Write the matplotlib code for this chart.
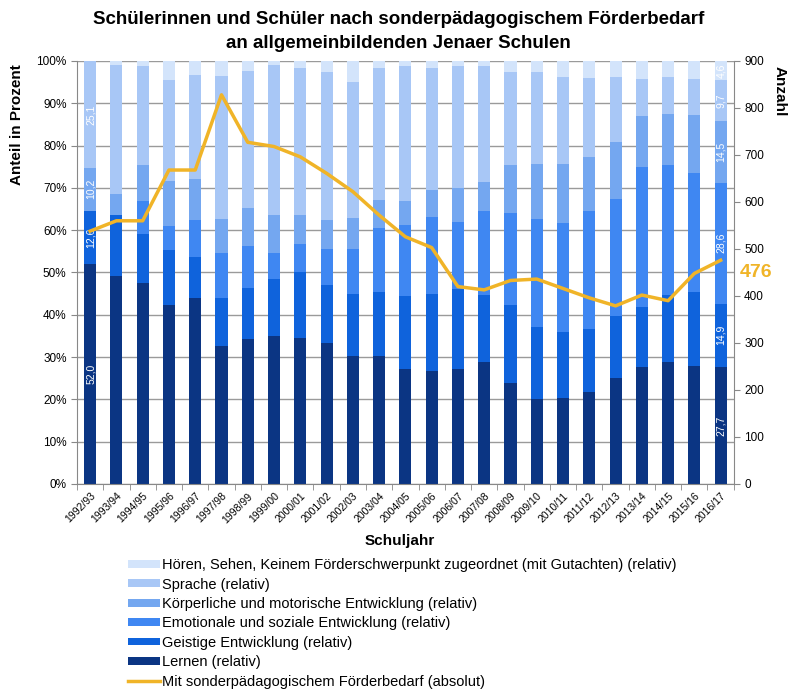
#!/usr/bin/env python3

import matplotlib
matplotlib.use("Agg")
import matplotlib.pyplot as plt
import numpy as np

# School years (categories).
years = ['1992/93', '1993/94', '1994/95', '1995/96', '1996/97', '1997/98',
         '1998/99', '1999/00', '2000/01', '2001/02', '2002/03', '2003/04',
         '2004/05', '2005/06', '2006/07', '2007/08', '2008/09', '2009/10',
         '2010/11', '2011/12', '2012/13', '2013/14', '2014/15', '2015/16',
         '2016/17']

# Relative shares in percent, bottom to top.
lernen = [52.0, 49.2, 47.4, 42.2, 44.0, 32.6, 34.3, 35.0, 34.4, 33.3, 30.3, 30.3,
          27.2, 26.8, 27.3, 28.8, 23.8, 20.0, 20.3, 21.7, 25.1, 27.7, 28.8, 27.9, 27.7]
geistig = [12.6, 14.4, 11.7, 13.0, 9.6, 11.3, 12.0, 13.5, 15.6, 13.7, 14.7, 15.1,
           17.3, 18.1, 18.7, 15.9, 18.4, 17.0, 15.7, 14.9, 14.6, 14.1, 15.9, 17.5, 14.9]
emotional = [0.0, 0.0, 7.8, 5.7, 8.9, 10.6, 10.0, 6.1, 6.7, 8.6, 10.5, 15.2,
             16.7, 18.2, 15.9, 19.8, 21.9, 25.6, 25.6, 27.9, 27.7, 33.1, 30.7, 28.1, 28.6]
koerper = [10.2, 4.9, 8.5, 10.7, 9.6, 8.1, 8.9, 9.0, 6.9, 6.9, 7.4, 6.6,
           5.7, 6.4, 8.1, 6.9, 11.2, 13.0, 14.1, 12.7, 13.4, 12.0, 12.0, 13.7, 14.5]
sprache = [25.1, 30.5, 23.3, 23.9, 24.6, 33.9, 32.4, 35.5, 34.8, 34.8, 32.1, 31.2,
           31.8, 28.9, 28.7, 27.3, 22.0, 21.7, 20.6, 18.7, 15.5, 8.8, 8.9, 8.5, 9.7]
hoeren = [0.1, 1.0, 1.3, 4.5, 3.3, 3.5, 2.4, 0.9, 1.6, 2.7, 5.0, 1.6,
          1.3, 1.6, 1.3, 1.3, 2.7, 2.7, 3.7, 4.1, 3.7, 4.3, 3.7, 4.3, 4.6]

# Absolute number of pupils with special educational needs.
anzahl = [538, 560, 560, 668, 668, 828, 727, 718, 696, 661, 622, 572,
          526, 503, 420, 413, 433, 436, 416, 396, 379, 402, 390, 448, 476]

series = [
    ('Lernen (relativ)', lernen, '#0b3583'),
    ('Geistige Entwicklung (relativ)', geistig, '#0f63dc'),
    ('Emotionale und soziale Entwicklung (relativ)', emotional, '#3f87f2'),
    ('Körperliche und motorische Entwicklung (relativ)', koerper, '#74a7f0'),
    ('Sprache (relativ)', sprache, '#a8c7f6'),
    ('Hören, Sehen, Keinem Förderschwerpunkt zugeordnet (mit Gutachten) (relativ)', hoeren, '#d3e4fb'),
]
line_color = '#f0b428'

plt.rcParams['font.family'] = ['Liberation Sans', 'DejaVu Sans']

fig = plt.figure(figsize=(7.89, 6.93), dpi=100)
ax = fig.add_axes([0.0976, 0.3016, 0.8324, 0.6104])
x = np.arange(len(years))

# Stacked bars.
bottom = np.zeros(len(years))
bar_handles = []
for name, vals, color in series:
    vals = np.array(vals)
    bars = ax.bar(x, vals, 0.46, bottom=bottom, color=color, label=name, zorder=2)
    bar_handles.append(bars)
    # Data labels on first and last bar.
    for i in (0, len(years) - 1):
        if vals[i] >= 4:
            ax.text(x[i] + 0.02, bottom[i] + vals[i] / 2, f'{vals[i]:.1f}'.replace('.', ','),
                    rotation=90, ha='center', va='center', color='white',
                    fontsize=7.5, zorder=4)
    bottom += vals

ax.set_xlim(-0.5, len(years) - 0.5)
ax.set_ylim(0, 100)
ax.set_yticks(np.arange(0, 101, 10))
ax.set_yticklabels([f'{v}%' for v in range(0, 101, 10)], fontsize=8.5)
ax.set_xticks(x)
ax.set_xticklabels(years, rotation=45, ha='right', rotation_mode='anchor', fontsize=7.5)
ax.tick_params(axis='x', length=0, pad=5)
ax.set_xticks(np.arange(-0.5, len(years), 1), minor=True)
ax.tick_params(axis='x', which='minor', length=4, color='#888888')
ax.tick_params(axis='y', length=4, color='#888888')
ax.grid(axis='y', color='#9a9a9a', linewidth=1, zorder=0)
ax.set_axisbelow(True)
for side in ('top', 'right'):
    ax.spines[side].set_visible(False)
for side in ('left', 'bottom'):
    ax.spines[side].set_color('#888888')

# Absolute numbers on the secondary axis.
ax2 = ax.twinx()
line, = ax2.plot(x, anzahl, color=line_color, linewidth=2.5, zorder=5,
                 label='Mit sonderpädagogischem Förderbedarf (absolut)')
ax2.set_ylim(0, 900)
ax2.set_yticks(np.arange(0, 901, 100))
ax2.tick_params(axis='y', labelsize=8.5, length=4, color='#888888')
for side in ('top', 'left', 'bottom'):
    ax2.spines[side].set_visible(False)
ax2.spines['right'].set_color('#888888')
ax2.text(len(years) - 0.28, anzahl[-1] - 26, str(anzahl[-1]), color=line_color,
         fontsize=14, fontweight='bold', ha='left', va='center')

# Titles and axis labels.
fig.text(0.505, 0.984, 'Schülerinnen und Schüler nach sonderpädagogischem Förderbedarf\n'
         'an allgemeinbildenden Jenaer Schulen', ha='center', va='top',
         fontsize=13.5, fontweight='bold', linespacing=1.5)
fig.text(0.022, 0.908, 'Anteil in Prozent', rotation=90, ha='center', va='top',
         fontsize=11, fontweight='bold')
fig.text(0.988, 0.905, 'Anzahl', rotation=-90, ha='center', va='top',
         fontsize=11, fontweight='bold')
fig.text(0.507, 0.219, 'Schuljahr', ha='center', va='center',
         fontsize=11, fontweight='bold')

# Legend below the chart, top entry first.
handles = bar_handles[::-1] + [line]
labels = [s[0] for s in series][::-1] + [line.get_label()]
fig.legend(handles, labels, loc='upper left', bbox_to_anchor=(0.155, 0.203),
           frameon=False, fontsize=10.5, handlelength=2.2, handleheight=0.45,
           handletextpad=0.15, labelspacing=0.37, borderaxespad=0)

plt.savefig('out.png', dpi=100)
